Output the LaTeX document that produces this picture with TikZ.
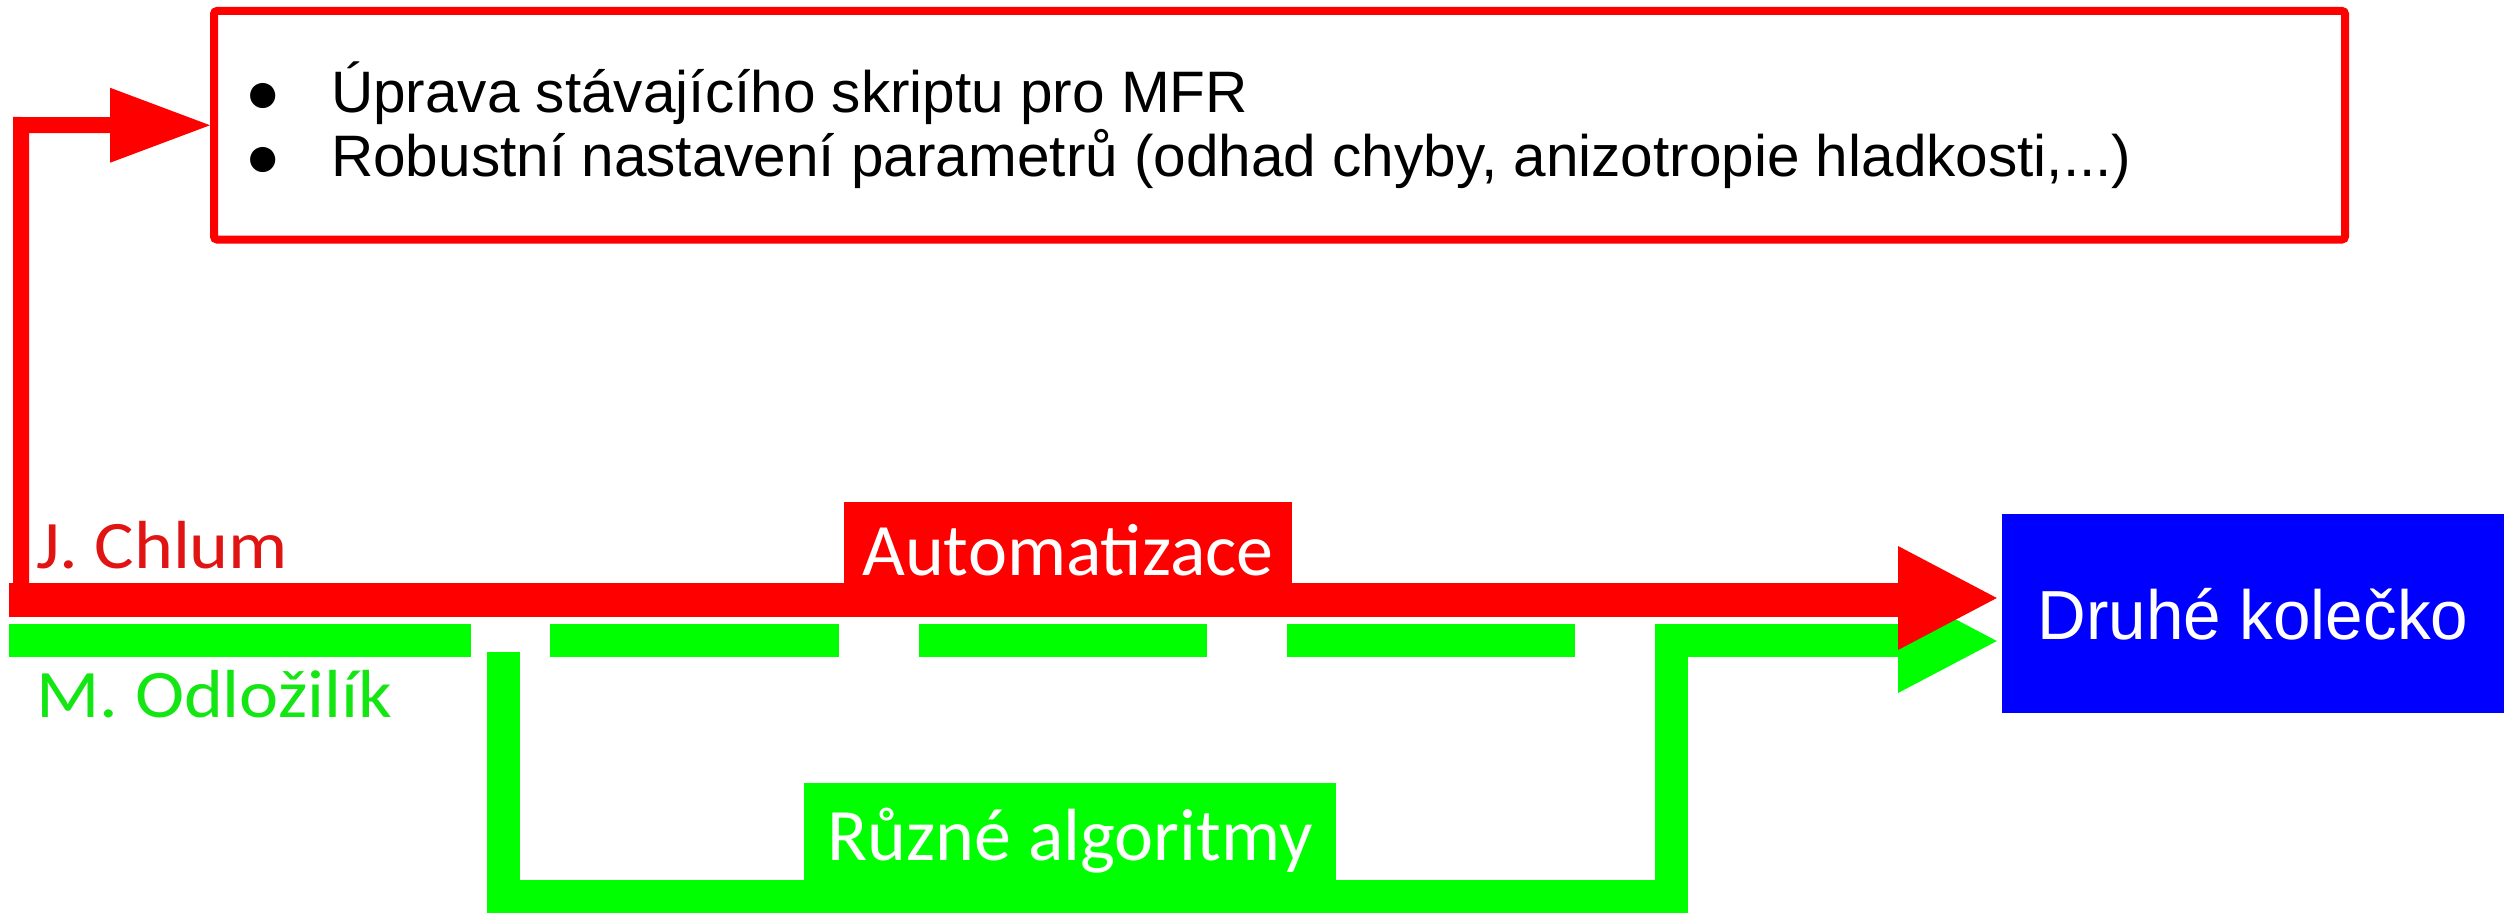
\documentclass[tikz,border=0pt]{standalone}
\usepackage{fontspec}
\setmainfont{Liberation Sans}
\newfontfamily\calfont{Carlito}
\newfontfamily\calwide[FakeStretch=1.09]{Carlito}
\newfontfamily\druhefont[FakeStretch=0.97]{Liberation Sans}
\usetikzlibrary{calc}
\definecolor{cred}{RGB}{255,0,0}
\definecolor{cgreen}{RGB}{0,255,0}
\definecolor{cblue}{RGB}{0,0,255}
\definecolor{lblred}{RGB}{225,20,20}
\definecolor{lblgreen}{RGB}{20,230,20}
\begin{document}
\begin{tikzpicture}[x=1pt,y=-1pt,
  flow/.style={line width=#1, line join=miter, line cap=butt},
  head/.style={fill=#1, draw=none},
  listtext/.style={anchor=base west, inner sep=0, font=\fontsize{58.5}{64}\selectfont},
  namelbl/.style={anchor=base west, inner sep=0, text=#1, font=\calwide\fontsize{68}{72}\selectfont},
  tagbox/.style={fill=#1, text=white, inner sep=0, font=\calfont\fontsize{74}{80}\selectfont}]
\useasboundingbox (0,0) rectangle (2504,915);

% top box
\node[draw=cred, line width=8, rounded corners=3, inner sep=0,
      minimum width=2131, minimum height=228.5] (box) at (1279.5,125.25) {};
\node[listtext] (b1) at (245,113) {●};
\node[listtext] (b2) at (245,176) {●};
\node[listtext] (l1) at (331,113) {Úprava stávajícího skriptu pro MFR};
\node[listtext] (l2) at (331,176) {Robustní nastavení parametrů (odhad chyby, anizotropie hladkosti,...)};

% target box
\node[fill=cblue, text=white, inner sep=0, minimum width=502, minimum height=199,
      text height=125, text depth=74, font=\druhefont\fontsize{69.5}{80}\selectfont]
      (blue) at (2253,613.5) {Druhé kolečko};

% coordinates of flows
\coordinate (rstart) at (9,600);
\coordinate (rend) at (1898,600);
\coordinate (rtip) at ($(blue.west)+(-5,-15.5)$);
\coordinate (gtip) at ($(blue.west)+(-5,27.5)$);
\coordinate (gstart) at (503,652);
\coordinate (gback) at (1671.5,640.5);
\coordinate (gend) at (1898,640.5);
\coordinate (bend) at (21,600);

% green dashed line
\draw[cgreen, line width=33, dash pattern=on 462pt off 79pt on 289pt off 80pt on 288pt off 80pt on 288pt]
  (9,640.5) -- (1575,640.5);
% green detour
\draw[cgreen, flow=33] (gstart) -- (503,896.5) -- (1671.5,896.5) -- (gback) -- (gend);
\fill[head=cgreen] (1898,589) -- (gtip) -- (1898,693) -- cycle;

% red thin line to box
\draw[cred, flow=16] (bend) -- (21,125) -- ($(box.west)+(-100,0)$);
\fill[head=cred] ($(box.west)+(-100,-37.5)$) -- (box.west) -- ($(box.west)+(-100,37.5)$) -- cycle;

% red main bar
\draw[cred, flow=34] (rstart) -- (rend);
\fill[head=cred] (1898,546) -- (rtip) -- (1898,650) -- cycle;

% tag boxes
\node[tagbox=cred, minimum width=448, minimum height=81, text height=73, text depth=8]
  (auto) at (1068,542.5) {Automatizace};
\node[tagbox=cgreen, minimum width=532, minimum height=97, text height=77, text depth=20]
  (alg) at (1070,831.5) {Různé algoritmy};

% name labels
\node[namelbl=lblred] (jc) at (36,568) {J. Chlum};
\node[namelbl=lblgreen] (mo) at (36,717) {M. Odložilík};
\end{tikzpicture}
\end{document}
